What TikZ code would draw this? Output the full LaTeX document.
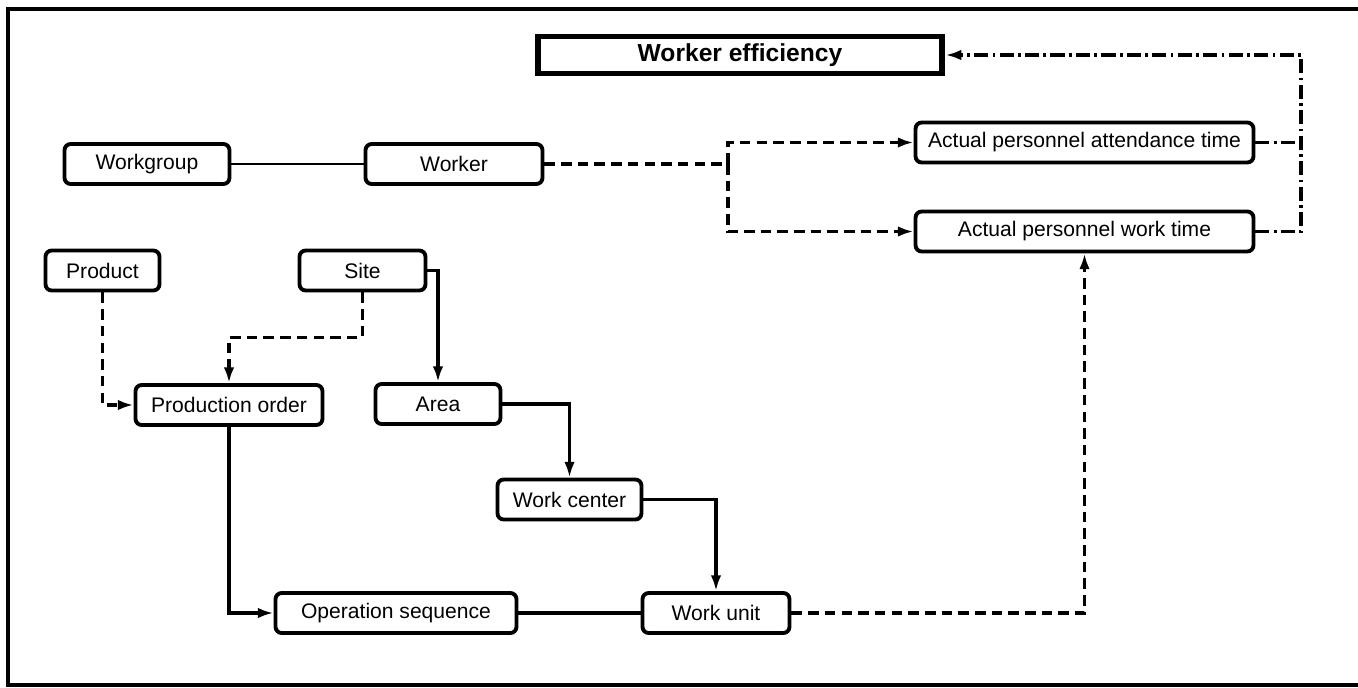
\documentclass[tikz,border=0pt]{standalone}
\usepackage{fontspec}
\setmainfont{Liberation Sans}
\usepackage{tikz}
\usetikzlibrary{arrows.meta,positioning}

\begin{document}
\begin{tikzpicture}[x=0.02cm, y=-0.02cm,
  box/.style={draw, line width=2.2pt, rounded corners=3.5pt, minimum height=0.8cm,
              inner sep=0pt, font=\fontsize{12}{14}\selectfont},
  titlebox/.style={draw, line width=3.4pt, minimum width=8.1cm, minimum height=0.74cm,
              inner sep=0pt, font=\fontsize{14}{16}\selectfont\bfseries},
  every path/.style={line width=2pt},
  >={Latex[length=9pt,width=6pt]},
  dashline/.style={dash pattern=on 6pt off 3.5pt},
  dashdotline/.style={dash pattern=on 8pt off 2.5pt on 1.5pt off 2.5pt}]
\useasboundingbox (0,0) rectangle (1358,687);
\draw[line width=2pt] (1358,9) -- (8,9) -- (8,685) -- (1358,685);

\node (WE) [titlebox] at (740,55) {Worker efficiency};
\node (WG) [box, minimum width=3.3cm]  at (147,164) {Workgroup};
\node (W)  [box, minimum width=3.54cm] at (454,164) {Worker};
\node (AT) [box, minimum width=6.76cm] at (1084.5,142.5) {Actual personnel attendance time};
\node (AW) [box, minimum width=6.76cm] at (1084.5,231.5) {Actual personnel work time};
\node (P)  [box, minimum width=2.28cm] at (102.5,270.5) {Product};
\node (S)  [box, minimum width=2.52cm] at (362.5,270.5) {Site};
\node (PO) [box, minimum width=3.74cm] at (229,405) {Production order};
\node (A)  [box, minimum width=2.5cm]  at (438,404) {Area};
\node (WC) [box, minimum width=2.88cm] at (569.5,499.5) {Work center};
\node (OS) [box, minimum width=4.82cm] at (396,613) {Operation sequence};
\node (WU) [box, minimum width=2.94cm] at (716,613) {Work unit};

\coordinate (split) at (728,164);
\coordinate (ddtop) at (1301,55);

\draw[line width=1.5pt] (WG) -- (W);
\draw[dashline] (W) -- (split);
\draw[dashline,->] (split) |- (AT.west);
\draw[dashline,->] (split) |- (AW.west);
\draw[dashdotline] (AT.east) -- (AT.east -| ddtop);
\draw[dashdotline,->] (AW.east) -| (ddtop) -- (WE.east);

\draw[dashline,->] (P.south) |- (PO.west);
\draw[dashline,->] (S.south) -- ++(0,45) -| (PO.north);
\draw[->] (S.east) -| (A.north);
\draw[->] (A.east) -| (WC.north);
\draw[->] (WC.east) -| (WU.north);
\draw[->] (PO.south) |- (OS.west);
\draw (OS) -- (WU);
\draw[dashline,->] (WU.east) -| (AW.south);
\end{tikzpicture}
\end{document}
